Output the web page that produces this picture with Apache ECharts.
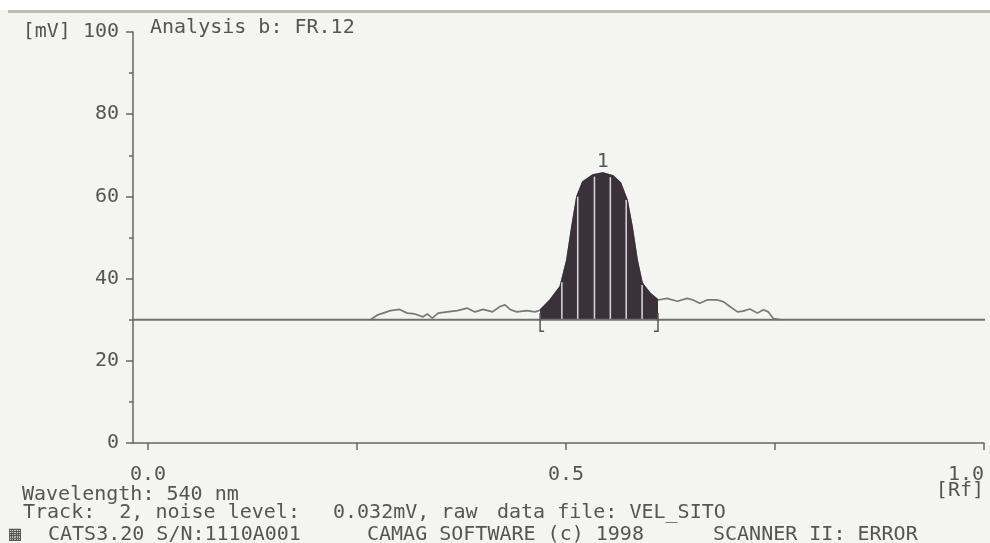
<!DOCTYPE html>
<html>
<head>
<meta charset="utf-8">
<script src="https://cdn.jsdelivr.net/npm/echarts@6/dist/echarts.min.js"></script>
<style>html,body{margin:0;padding:0;background:#fff}#c{width:990px;height:543px}</style>
</head>
<body>
<div id="c"></div>
<script>
// ---- data ----
const traceRf = [0.266,0.274,0.290,0.301,0.310,0.319,0.329,0.334,0.340,0.347,0.358,0.370,0.382,0.391,0.401,0.412,0.421,0.427,0.433,0.441,0.453,0.463,
  0.469,0.481,0.493,0.501,0.507,0.513,0.520,0.532,0.544,0.556,0.565,0.573,0.579,0.585,0.591,0.600,0.610,
  0.621,0.633,0.645,0.652,0.660,0.669,0.681,0.688,0.696,0.705,0.712,0.720,0.729,0.736,0.742,0.748,0.756];
const traceMv = [30.0,31.1,32.2,32.5,31.6,31.4,30.7,31.4,30.4,31.6,31.9,32.2,32.8,31.9,32.5,31.9,33.2,33.6,32.5,31.9,32.2,31.9,
  32.3,34.8,38.0,44.5,52.6,59.9,63.5,65.2,65.7,65.0,63.3,59.1,52.6,44.5,38.9,36.5,34.8,
  35.2,34.5,35.2,34.8,34.0,34.8,34.8,34.4,33.2,31.9,32.1,32.6,31.6,32.4,31.9,30.3,30.0];
const baselineMv = 30;
const baselineRf = [-0.024, 1.01];
const bracketRf = [0.469, 0.610];
const bracketMv = [27.2, 31.6];
const sliceRf = [0.495, 0.514, 0.534, 0.553, 0.572, 0.591];
const peakLabel = '1';
const xTickValues = [0, 0.25, 0.5, 0.75, 1.0];
const xLabelValues = [0, 0.5, 1.0];
const yMin = 0, yMax = 100, yStep = 20;
const titleText = 'Analysis b: FR.12';
const footerLines = [
  ['Wavelength: 540 nm'],
  ['Track:  2, noise level:', '0.032mV, raw', 'data file: VEL_SITO'],
  ['\u25A6', 'CATS3.20 S/N:1110A001', 'CAMAG SOFTWARE (c) 1998', 'SCANNER II: ERROR']
];

// ---- helpers ----
function interp(rf) {
  for (let i = 0; i < traceRf.length - 1; i++) {
    if (rf >= traceRf[i] && rf <= traceRf[i + 1]) {
      const t = (rf - traceRf[i]) / (traceRf[i + 1] - traceRf[i]);
      return traceMv[i] + t * (traceMv[i + 1] - traceMv[i]);
    }
  }
  return baselineMv;
}
const trace = traceRf.map((r, i) => [r, traceMv[i]]);
const peak = trace.filter(p => p[0] >= bracketRf[0] && p[0] <= bracketRf[1]);
const slices = sliceRf.map(r => [r, interp(r)]);
const brackets = bracketRf.map((r, i) => [r, bracketMv[0], bracketMv[1], i]);

const FONT = '"DejaVu Sans Mono", "Liberation Mono", monospace';
const TXT = '#555';
const mono = (size) => ({ fontFamily: FONT, fontSize: size, color: TXT });

const footerX = [[22], [23, 333, 497], [9, 48, 367, 713]];
const footerY = [495, 513, 535];
const graphics = [
  { type: 'rect', shape: { x: 0, y: 0, width: 990, height: 10 }, style: { fill: '#ffffff' }, silent: true },
  { type: 'line', shape: { x1: 8, y1: 11.5, x2: 990, y2: 11.5 }, style: { stroke: '#b9bdb5', lineWidth: 3 }, silent: true }
];
footerLines.forEach((line, li) => {
  line.forEach((t, ti) => {
    graphics.push({
      type: 'text', silent: true,
      style: { text: t, x: footerX[li][ti], y: footerY[li], font: '20px ' + FONT, fill: TXT, verticalAlign: 'middle' }
    });
  });
});

const chart = echarts.init(document.getElementById('c'), null, { renderer: 'canvas' });
chart.setOption({
  animation: false,
  backgroundColor: '#f4f4f2',
  title: { text: titleText, left: 145, top: 13, textStyle: { fontFamily: FONT, fontSize: 20, fontWeight: 'normal', color: TXT } },
  grid: { left: 133, right: 6, top: 32, bottom: 100, containLabel: false },
  xAxis: {
    type: 'value', min: -0.018, max: 1.0,
    axisLine: { show: true, onZero: false, lineStyle: { color: '#666', width: 1.5 } },
    axisTick: { show: true, customValues: xTickValues, length: 7, lineStyle: { color: '#666', width: 1.5 } },
    axisLabel: {
      show: true, customValues: xLabelValues, margin: 24, lineHeight: 16,
      ...mono(20),
      alignMaxLabel: 'right',
      formatter: v => (v === 1 ? '1.0\n[Rf]' : v.toFixed(1))
    },
    splitLine: { show: false }
  },
  yAxis: {
    type: 'value', min: yMin, max: yMax, interval: yStep,
    axisLine: { show: true, onZero: false, lineStyle: { color: '#666', width: 1.5 } },
    axisTick: { show: true, length: 7, lineStyle: { color: '#666', width: 1.5 } },
    minorTick: { show: true, splitNumber: 2, length: 4, lineStyle: { color: '#666', width: 1.5 } },
    axisLabel: { margin: 14, ...mono(20), formatter: v => (v === yMax ? '[mV] ' + v : String(v)) },
    splitLine: { show: false }
  },
  graphic: graphics,
  series: [
    {
      type: 'line', data: trace, showSymbol: false, z: 2,
      lineStyle: { color: '#787878', width: 1.7 }
    },
    {
      type: 'line', data: peak, showSymbol: false, z: 3,
      lineStyle: { color: '#3a3139', width: 1.5 },
      areaStyle: { origin: baselineMv, color: '#3a3139', opacity: 1 },
      markPoint: {
        symbol: 'circle', symbolSize: 1, itemStyle: { color: 'rgba(0,0,0,0)' },
        data: [{ type: 'max' }],
        label: { show: true, position: 'top', distance: 1, formatter: peakLabel, ...mono(20) }
      }
    },
    {
      type: 'custom', data: slices, z: 4, encode: { x: 0, y: 1 },
      renderItem: (params, api) => {
        const p0 = api.coord([api.value(0), baselineMv]);
        const p1 = api.coord([api.value(0), api.value(1)]);
        return { type: 'line', shape: { x1: p0[0], y1: p0[1], x2: p1[0], y2: p1[1] + 2 }, style: { stroke: '#d2d0d2', lineWidth: 1.6 } };
      }
    },
    {
      type: 'line', data: baselineRf.map(r => [r, baselineMv]), showSymbol: false, clip: false, z: 5,
      lineStyle: { color: '#707070', width: 2 }
    },
    {
      type: 'custom', data: brackets, z: 6, encode: { x: 0, y: 1 },
      renderItem: (params, api) => {
        const top = api.coord([api.value(0), api.value(2)]);
        const bot = api.coord([api.value(0), api.value(1)]);
        const dir = api.value(3) === 0 ? 4 : -4;
        return { type: 'polyline', shape: { points: [[top[0], top[1]], [bot[0], bot[1]], [bot[0] + dir, bot[1]]] }, style: { stroke: '#555', lineWidth: 1.5, fill: 'none' } };
      }
    }
  ]
});
</script>
</body>
</html>
